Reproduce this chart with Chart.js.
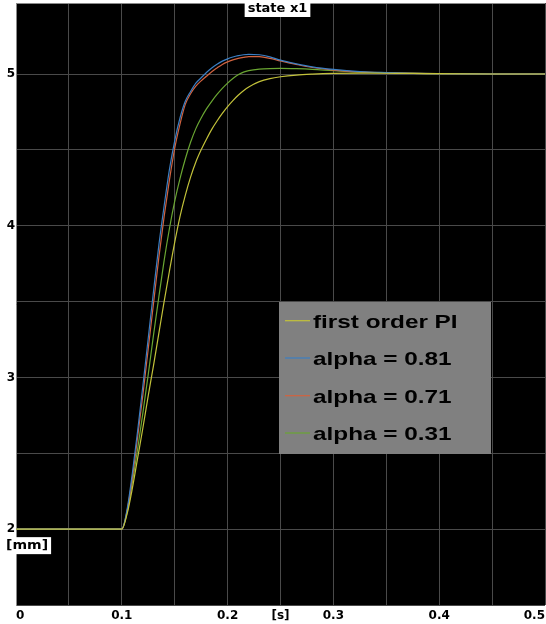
<!DOCTYPE html>
<html>
<head>
<meta charset="utf-8">
<script src="https://cdn.jsdelivr.net/npm/chart.js@4.4.0/dist/chart.umd.min.js"></script>
<style>
html,body{margin:0;padding:0;background:#fff;}
#wrap{width:546px;height:624px;position:relative;}
</style>
</head>
<body>
<div id="wrap"><canvas id="c" width="546" height="624"></canvas></div>
<script>
// ---- data ----
const seriesNames = ['first order PI', 'alpha = 0.81', 'alpha = 0.71', 'alpha = 0.31'];
const seriesColors = ['#c3c23a', '#3b7fc4', '#d2633f', '#6aa632'];

const timeS = [0, 0.1, 0.105, 0.11, 0.115, 0.12, 0.125, 0.13, 0.135, 0.14, 0.145, 0.15, 0.155, 0.16, 0.165, 0.17, 0.175, 0.18, 0.185, 0.19, 0.195, 0.2, 0.205, 0.21, 0.215, 0.22, 0.23, 0.24, 0.25, 0.265, 0.28, 0.3, 0.325, 0.35, 0.375, 0.4, 0.45, 0.5];

const firstOrderPI = [2, 2, 2.10, 2.27, 2.47, 2.67, 2.88, 3.08, 3.29, 3.50, 3.70, 3.89, 4.06, 4.20, 4.32, 4.42, 4.50, 4.57, 4.635, 4.69, 4.74, 4.785, 4.825, 4.86, 4.89, 4.915, 4.95, 4.97, 4.982, 4.993, 4.999, 5.004, 5.006, 5.005, 5.004, 5.002, 5.0, 5.0];
const alpha081 = [2, 2, 2.13, 2.37, 2.65, 2.95, 3.26, 3.57, 3.87, 4.13, 4.37, 4.56, 4.71, 4.82, 4.885, 4.94, 4.975, 5.01, 5.04, 5.065, 5.085, 5.10, 5.112, 5.121, 5.127, 5.13, 5.127, 5.113, 5.091, 5.067, 5.047, 5.03, 5.016, 5.009, 5.004, 5.002, 5.0, 5.0];
const alpha071 = [2, 2, 2.12, 2.34, 2.61, 2.89, 3.19, 3.49, 3.79, 4.06, 4.30, 4.51, 4.67, 4.80, 4.87, 4.92, 4.955, 4.985, 5.015, 5.04, 5.063, 5.08, 5.093, 5.103, 5.11, 5.115, 5.114, 5.103, 5.086, 5.063, 5.043, 5.026, 5.014, 5.008, 5.004, 5.002, 5.0, 5.0];
const alpha031 = [2, 2, 2.11, 2.31, 2.53, 2.77, 3.02, 3.28, 3.53, 3.77, 3.98, 4.16, 4.31, 4.44, 4.55, 4.64, 4.71, 4.77, 4.82, 4.865, 4.905, 4.94, 4.97, 4.995, 5.012, 5.022, 5.032, 5.036, 5.037, 5.035, 5.031, 5.022, 5.013, 5.007, 5.004, 5.002, 5.0, 5.0];

const xTickValues = [0, 0.05, 0.1, 0.15, 0.2, 0.25, 0.3, 0.35, 0.4, 0.45, 0.5];
const xTickLabels = ['0', '', '0.1', '', '0.2', '[s]', '0.3', '', '0.4', '', '0.5'];
const yTickValues = [1.5, 2, 2.5, 3, 3.5, 4, 4.5, 5];
const yTickLabels = ['', '2', '', '3', '', '4', '', '5'];

const titleText = 'state x1';
const yUnitText = '[mm]';

// ---- build ----
const seriesV = [firstOrderPI, alpha081, alpha071, alpha031];
const datasets = seriesNames.map((n, i) => ({
  label: n,
  data: timeS.map((t, k) => ({ x: t, y: seriesV[i][k] })),
  borderColor: seriesColors[i],
  backgroundColor: seriesColors[i],
  borderWidth: 1.2,
  pointRadius: 0,
  showLine: true,
  fill: false,
  cubicInterpolationMode: 'monotone'
}));

const TICK_FONT = { family: '"DejaVu Sans"', size: 12, weight: 'bold' };

function stretchedText(ctx, text, x, y, font, sx, align) {
  ctx.save();
  ctx.font = font;
  ctx.textBaseline = 'middle';
  ctx.textAlign = align || 'left';
  ctx.translate(x, y);
  ctx.scale(sx, 1);
  ctx.fillStyle = '#000';
  ctx.fillText(text, 0, 0);
  ctx.restore();
}

const decorPlugin = {
  id: 'decor',
  beforeDraw(chart) {
    const { ctx, chartArea: a } = chart;
    ctx.save();
    ctx.fillStyle = '#000';
    ctx.fillRect(a.left, a.top, a.right - a.left, a.bottom - a.top);
    ctx.restore();
  },
  afterDraw(chart) {
    const { ctx, chartArea: a } = chart;
    ctx.save();
    ctx.strokeStyle = '#8a8a8a';
    ctx.lineWidth = 1;
    ctx.beginPath();
    ctx.moveTo(a.left, a.top + 0.5);
    ctx.lineTo(a.right, a.top + 0.5);
    ctx.stroke();
    ctx.restore();

    // title with white box
    const cx = (a.left + a.right) / 2 - 3;
    ctx.save();
    ctx.font = 'bold 13px "DejaVu Sans"';
    const tw = ctx.measureText(titleText).width;
    ctx.fillStyle = '#fff';
    ctx.fillRect(cx - tw / 2 - 3, 0, tw + 6, 17);
    ctx.fillStyle = '#000';
    ctx.textAlign = 'center';
    ctx.textBaseline = 'middle';
    ctx.fillText(titleText, cx, 9);
    ctx.restore();

    // y unit label
    const ys = chart.scales.y;
    const y2 = ys.getPixelForValue(2);
    ctx.save();
    ctx.font = 'bold 13px "DejaVu Sans"';
    const uw = ctx.measureText(yUnitText).width * 1.08;
    ctx.fillStyle = '#fff';
    ctx.fillRect(3, y2 + 8, uw + 6, 17);
    ctx.restore();
    stretchedText(ctx, yUnitText, 6, y2 + 16.5, 'bold 13px "DejaVu Sans"', 1.08, 'left');

    // legend
    const L = { left: 279, top: 302, width: 212, height: 152 };
    ctx.save();
    ctx.fillStyle = '#808080';
    ctx.fillRect(L.left, L.top, L.width, L.height);
    ctx.restore();
    const rows = [322.7, 360, 397.7, 435];
    chart.data.datasets.forEach((ds, i) => {
      const ry = rows[i];
      ctx.save();
      ctx.strokeStyle = ds.borderColor;
      ctx.lineWidth = 1.2;
      ctx.beginPath();
      ctx.moveTo(285, ry - 2);
      ctx.lineTo(310, ry - 2);
      ctx.stroke();
      ctx.restore();
      stretchedText(ctx, ds.label, 313, ry, 'bold 19px "Liberation Sans"', 1.28, 'left');
    });
  }
};

new Chart(document.getElementById('c'), {
  type: 'scatter',
  data: { datasets: datasets },
  plugins: [decorPlugin],
  options: {
    responsive: false,
    devicePixelRatio: 1,
    animation: false,
    layout: { padding: { left: 0, right: 1, top: 3, bottom: 0 } },
    plugins: { legend: { display: false }, title: { display: false }, tooltip: { enabled: false } },
    scales: {
      x: {
        type: 'linear',
        min: 0,
        max: 0.5,
        afterBuildTicks(scale) { scale.ticks = xTickValues.map(v => ({ value: v })); },
        afterFit(scale) { scale.height = 19; scale.paddingLeft = 0; scale.paddingRight = 0; },
        ticks: {
          autoSkip: false,
          maxRotation: 0,
          align: 'inner',
          padding: 4,
          color: '#000',
          font: TICK_FONT,
          callback(value, index) { return xTickLabels[index]; }
        },
        grid: { color: '#4a4a4a', lineWidth: 1, drawTicks: false },
        border: { display: false }
      },
      y: {
        type: 'linear',
        min: 1.5,
        max: 5.468,
        afterBuildTicks(scale) { scale.ticks = yTickValues.map(v => ({ value: v })); },
        afterFit(scale) { scale.width = 16; scale.paddingTop = 0; scale.paddingBottom = 0; },
        ticks: {
          autoSkip: false,
          padding: 1,
          color: '#000',
          font: TICK_FONT,
          callback(value, index) { return yTickLabels[index]; }
        },
        grid: { color: '#4a4a4a', lineWidth: 1, drawTicks: false },
        border: { display: true, color: '#8a8a8a' }
      }
    }
  }
});
</script>
</body>
</html>
